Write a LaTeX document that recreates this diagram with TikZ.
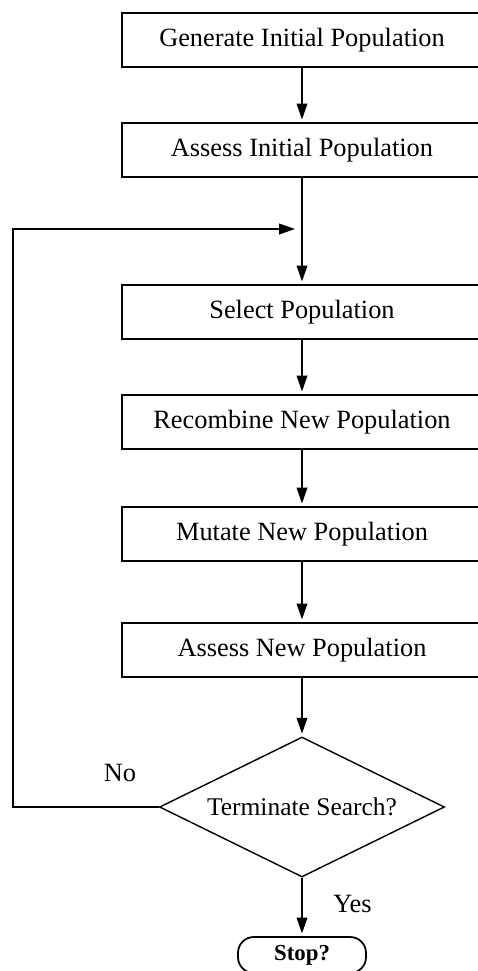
\documentclass[tikz,border=0pt]{standalone}
\usepackage{fontspec}
\setmainfont{Liberation Serif}
\usetikzlibrary{shapes.geometric,arrows.meta}

\tikzset{
    caja/.style={draw, line width=1pt, minimum width=7.2cm, minimum height=1.08cm,
        font=\fontsize{15}{18}\selectfont},
    flecha/.style={line width=1pt, -{Triangle[length=9pt,width=6pt]}, shorten >=1.5pt},
}

\begin{document}
\begin{tikzpicture}
    \useasboundingbox (0,0) rectangle (9.56,-19.42);

    % Cajas
    \node[caja] (generar) at (6.04,-0.80) {Generate Initial Population};
    \node[caja] (evaluar) at (6.04,-3.00) {Assess Initial Population};
    \node[caja] (seleccionar) at (6.04,-6.24) {Select Population};
    \node[caja] (recombinar) at (6.04,-8.44) {Recombine New Population};
    \node[caja] (mutar) at (6.04,-10.68) {Mutate New Population};
    \node[caja] (evaluarnueva) at (6.04,-13.00) {Assess New Population};

    % Decision y fin
    \node[draw, diamond, line width=0.8pt, inner sep=0pt, aspect=2,
        minimum width=5.7cm, minimum height=2.8cm,
        font=\fontsize{14.5}{17}\selectfont] (terminar) at (6.04,-16.14) {Terminate Search?};
    \node[draw, line width=1pt, rounded corners=9pt, minimum width=2.56cm,
        minimum height=0.72cm, font=\bfseries\fontsize{13}{15}\selectfont] (parar) at (6.04,-19.10) {Stop?};

    % Flechas
    \draw[flecha] (generar) -- (evaluar);
    \draw[flecha] (evaluar) -- (seleccionar);
    \draw[flecha] (seleccionar) -- (recombinar);
    \draw[flecha] (recombinar) -- (mutar);
    \draw[flecha] (mutar) -- (evaluarnueva);
    \draw[flecha] (evaluarnueva) -- (terminar);
    \draw[flecha] (terminar) -- (parar) node[pos=0.45, right=14pt, font=\fontsize{15}{18}\selectfont] (si) {Yes};

    % Lazo de vuelta
    \coordinate (esquina) at (0.26,-16.14);
    \coordinate (lazo) at (5.90,-4.58);
    \draw[flecha, shorten >=0pt] (terminar.west) -- (esquina) |- (lazo);
    \node[font=\fontsize{15}{18}\selectfont] (no) at (2.40,-15.46) {No};
\end{tikzpicture}
\end{document}
